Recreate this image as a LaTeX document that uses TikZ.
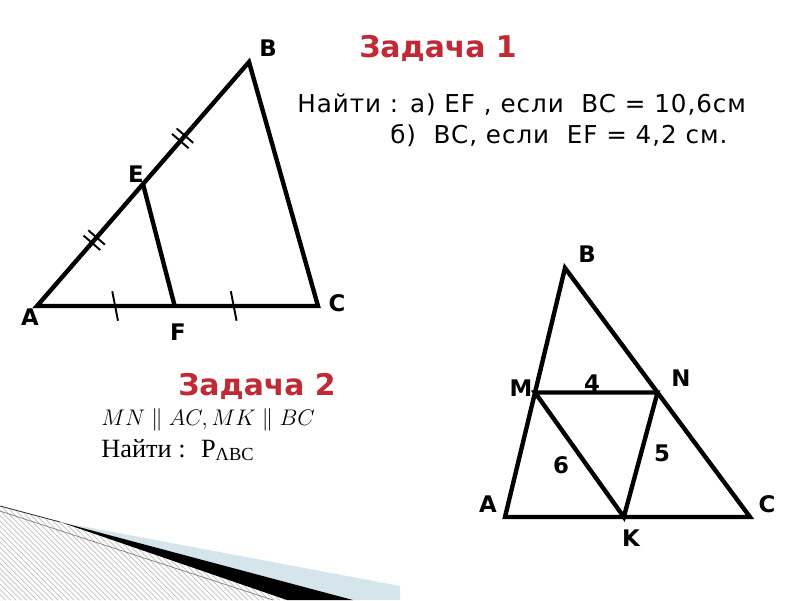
\documentclass[tikz,border=0pt]{standalone}
\usepackage{graphicx}
\usepackage{fontspec}
\usepackage{amsmath}
\usetikzlibrary{calc}
\usetikzlibrary{patterns}
\newfontfamily\sansfnt{DejaVu Sans}
\newfontfamily\widefnt{DejaVu Sans}[LetterSpace=4]
\newfontfamily\seriffnt{Liberation Serif}
\definecolor{taskred}{RGB}{196,40,52}
\definecolor{swooshblue}{RGB}{213,229,236}
\tikzset{
    side/.style={line width=2.5pt},
    tick/.style={line width=1.1pt},
    pt/.style={font=\sansfnt\bfseries\fontsize{13}{15}\selectfont, inner sep=0pt},
    title/.style={font=\sansfnt\bfseries\fontsize{17}{20}\selectfont, text=taskred, anchor=base, inner sep=0pt},
    txt/.style={font=\widefnt\fontsize{14}{16}\selectfont, anchor=base west, inner sep=0pt},
}

\begin{document}
\begin{tikzpicture}[x=0.02cm, y=-0.02cm]

    \useasboundingbox (0,0) rectangle (800,600);

    % corner swoosh
    \fill[pattern=north west lines, pattern color=gray!50] (0,507) -- (60,523) -- (287,600) -- (0,600) -- cycle;
    \fill[swooshblue] (60,522) -- (400,586) -- (400,600) -- (353,600) -- cycle;
    \fill[black] (60,522) -- (353,600) -- (287,600) -- cycle;
    \draw[black!80, line width=0.5pt] (0,506) -- (60,522);
    \draw[gray, line width=0.4pt] (0,511) -- (273,600);

    % task 1
    \coordinate (A1) at (37,306);
    \coordinate (B1) at (249,62);
    \coordinate (C1) at (318,306);
    \coordinate (E) at ($(A1)!0.5!(B1)$);
    \coordinate (F) at ($(A1)!0.49!(C1)$);

    \draw[side] (A1) -- (B1) -- (C1) -- cycle;
    \draw[side] (E) -- (F);

    \foreach \p in {0.259,0.281,0.676,0.698}{
        \coordinate (t) at ($(A1)!\p!(B1)$);
        \draw[tick] ($(t)!0.22cm!90:(B1)$) -- ($(t)!0.22cm!-90:(B1)$);
    }
    \foreach \p in {0.278,0.70}{
        \coordinate (s) at ($(A1)!\p!(C1)$);
        \draw[tick] ($(s)!0.3cm!101:(C1)$) -- ($(s)!0.3cm!-79:(C1)$);
    }

    \node[pt] (lA1) at (30,317) {A};
    \node[pt] (lB1) at (268,48) {B};
    \node[pt] (lC1) at (337,303) {C};
    \node[pt] (lE) at (136,174) {E};
    \node[pt] (lF) at (178,332) {F};

    \node[title] (t1) at (438,57) {Задача 1};
    \node[txt] (q1) at (297,112) {Найти : а) EF , если~ BC = 10,6см};
    \node[txt] (q2) at (390,143) {б)~ BC, если~ EF = 4,2 см.};

    % task 2
    \coordinate (A2) at (505,517);
    \coordinate (B2) at (565,268);
    \coordinate (C2) at (750,517);
    \coordinate (M) at ($(A2)!0.5!(B2)$);
    \coordinate (N) at ($(B2)!0.5!(C2)$);
    \coordinate (K) at ($(A2)!0.485!(C2)$);

    \draw[side] (A2) -- (B2) -- (C2) -- cycle;
    \draw[side] (M) -- (N) -- (K) -- cycle;

    \node[pt] (lA2) at (488,504) {A};
    \node[pt] (lB2) at (587,254) {B};
    \node[pt] (lC2) at (767,504) {C};
    \node[pt] (lM) at (521,388) {M};
    \node[pt] (lN) at (681,378) {N};
    \node[pt] (lK) at (631,538) {K};
    \node[pt] (mn) at (592,383) {4};
    \node[pt] (mk) at (561,465) {6};
    \node[pt] (nk) at (662,453) {5};

    \node[title] (t2) at (257,395) {Задача 2};
    \node[anchor=base west, inner sep=0pt, font=\fontsize{12}{14}\selectfont] (c2) at (101,425) {\scalebox{1.07}{$MN \parallel AC, MK \parallel BC$}};
    \node[anchor=base west, inner sep=0pt, font=\seriffnt\fontsize{15}{17}\selectfont] (f2) at (101,457) {Найти :~ P\textsubscript{ΛBC}};

\end{tikzpicture}
\end{document}
